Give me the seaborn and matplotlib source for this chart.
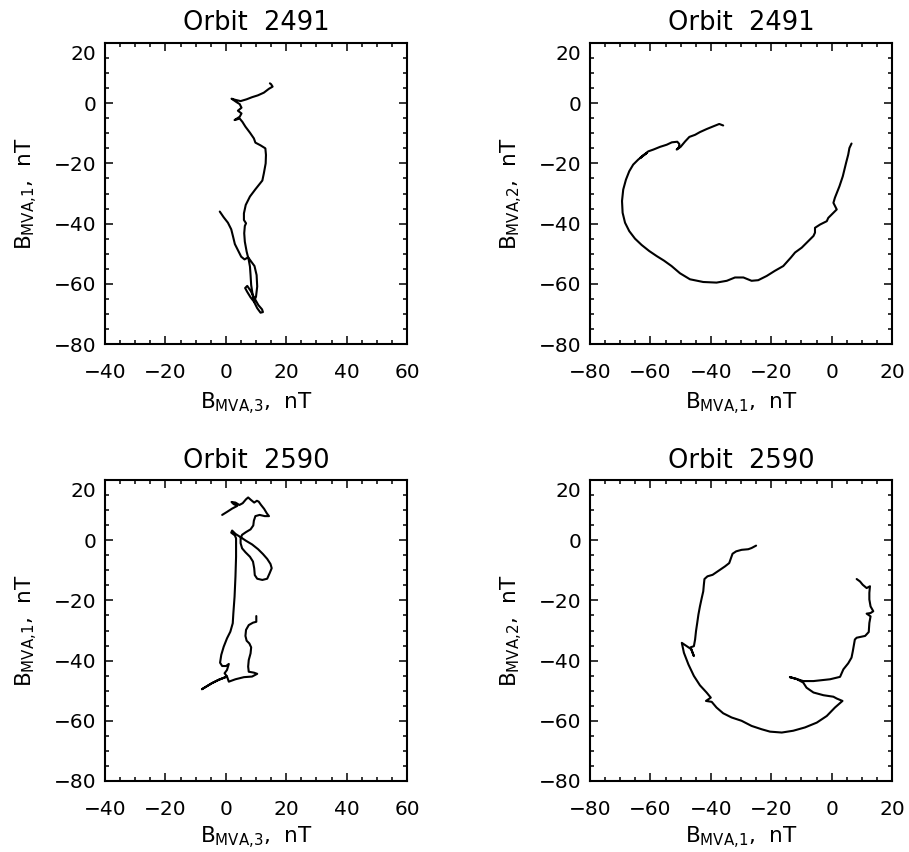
import numpy as np
import pandas as pd
import matplotlib
matplotlib.use("Agg")
import matplotlib.pyplot as plt
import matplotlib.transforms as mtransforms
from matplotlib.ticker import MultipleLocator
import seaborn as sns

# ---------------- data ----------------
# Orbit 2491 : B_MVA,3 (x) vs B_MVA,1 (y)
b3_2491 = [-2.0, -0.7, 0.7, 1.8, 2.4, 3.0, 4.0, 5.1, 6.2, 7.4,
           8.4, 9.5, 10.2, 10.4, 10.0, 9.3, 8.2, 7.1, 6.4, 7.1,
           8.2, 9.5, 10.8, 12.0, 12.3, 11.5, 10.4, 9.5, 8.9, 8.4,
           8.2, 8.0, 7.6, 6.9, 6.3, 6.1, 6.3, 6.7, 6.0, 6.0,
           6.6, 8.0, 9.8, 12.1, 12.6, 13.2, 13.3, 13.1, 11.5, 9.8,
           9.3, 8.0, 6.5, 5.5, 4.6, 2.9, 4.6, 5.2, 4.0, 5.2,
           4.6, 3.5, 1.9, 3.2, 4.9, 6.9, 8.7, 10.6, 12.6, 14.3,
           15.5, 15.0, 14.6]
b1_2491_a = [-36.0, -37.9, -39.7, -41.9, -44.3, -46.8, -48.8, -51.0, -51.9, -51.2,
             -52.6, -54.1, -57.1, -60.9, -64.3, -65.9, -64.5, -62.7, -61.4, -60.7,
             -62.3, -64.8, -67.1, -68.5, -69.4, -69.6, -68.1, -66.3, -63.7, -60.4,
             -57.1, -54.3, -52.1, -49.3, -46.0, -43.2, -40.8, -39.9, -38.8, -36.6,
             -33.8, -31.0, -28.6, -25.7, -23.3, -20.0, -17.2, -15.0, -14.0, -13.1,
             -11.7, -9.8, -7.8, -6.2, -5.1, -5.6, -4.5, -3.4, -2.5, -1.5,
             -0.3, 0.4, 1.5, 1.1, 0.7, 1.3, 2.0, 2.6, 3.5, 4.8,
             5.5, 6.3, 6.6]

# Orbit 2491 : B_MVA,1 (x) vs B_MVA,2 (y)
b1_2491_b = [-35.9, -37.2, -39.2, -41.4, -43.6, -45.2, -47.1, -48.5, -50.0, -51.3,
             -50.6, -50.4, -51.1, -52.9, -54.6, -56.8, -59.0, -60.7, -63.4, -61.2,
             -64.0, -65.7, -67.0, -68.1, -69.0, -69.4, -69.2, -68.4, -67.0, -65.1,
             -62.9, -60.4, -57.9, -55.5, -53.0, -50.2, -46.9, -42.5, -38.1, -34.7,
             -32.0, -29.2, -26.5, -24.3, -21.5, -18.8, -16.0, -13.5, -12.1, -9.9,
             -7.7, -6.0, -5.5, -5.5, -3.8, -1.6, -1.1, 0.0, 1.7, 0.6,
             1.1, 2.6, 3.7, 4.8, 5.5, 5.9, 6.6]
b2_2491 = [-7.4, -6.9, -7.7, -8.6, -9.6, -10.5, -11.2, -12.7, -14.5, -15.4,
           -14.7, -13.6, -12.8, -13.0, -13.8, -14.5, -15.4, -16.0, -18.2, -16.5,
           -18.7, -20.4, -22.6, -25.4, -28.7, -32.5, -36.4, -39.7, -42.5, -45.0,
           -47.1, -49.1, -50.8, -52.3, -54.1, -56.5, -58.5, -59.4, -59.6, -59.0,
           -57.9, -57.9, -59.0, -58.8, -57.4, -55.7, -54.1, -51.3, -49.6, -48.0,
           -45.8, -44.1, -43.0, -41.4, -40.3, -39.2, -38.1, -37.0, -35.3, -33.1,
           -31.4, -27.6, -24.3, -19.8, -17.1, -14.9, -13.4]

# Orbit 2590 : B_MVA,3 (x) vs B_MVA,1 (y)
b3_2590 = [-1.2, 0.4, 2.1, 3.8, 2.6, 1.9, 3.2, 4.5, 5.6, 6.7,
           7.4, 8.3, 9.4, 10.3, 10.9, 11.6, 12.7, 13.6, 14.3, 12.9,
           11.2, 9.8, 9.3, 9.1, 8.2, 6.7, 5.4, 4.9, 4.9, 5.4,
           6.5, 8.0, 9.0, 9.4, 9.6, 10.4, 12.1, 13.7, 14.5, 15.2,
           14.8, 13.7, 12.3, 10.7, 8.7, 6.7, 4.9, 3.2, 2.1, 1.8,
           3.0, 3.4, 3.4, 3.2, 2.9, 2.5, 2.3, 1.5, 0.4, -0.7,
           -1.5, -1.9, -1.2, 0.1, 1.0, 0.4, -0.4, 0.4, -2.4, -4.6,
           -7.9, -4.6, -2.4, 0.4, 1.0, 3.2, 6.0, 8.7, 10.4, 9.3,
           7.6, 7.4, 7.6, 8.2, 8.4, 7.8, 6.9, 6.5, 6.7, 7.6,
           9.0, 10.1, 10.1]
b1_2590_a = [8.4, 9.4, 10.5, 11.4, 12.0, 12.7, 12.5, 11.7, 12.3, 13.6,
             14.2, 13.4, 12.5, 13.1, 12.8, 11.8, 10.4, 8.9, 8.0, 8.0,
             8.4, 8.0, 6.5, 4.9, 3.6, 2.7, 1.8, 0.6, -1.0, -2.7,
             -4.0, -5.5, -7.1, -9.3, -11.6, -12.8, -13.2, -12.8, -11.0, -9.3,
             -7.9, -6.2, -4.6, -3.0, -1.4, -0.2, 1.0, 2.1, 3.2, 2.5,
             1.6, 0.6, -5.5, -12.1, -18.8, -24.3, -27.6, -30.4, -32.6, -35.4,
             -38.1, -40.7, -41.8, -41.8, -41.1, -43.1, -44.2, -45.3, -46.4, -47.5,
             -49.5, -47.5, -46.4, -45.3, -47.0, -46.2, -45.5, -45.3, -44.4, -44.0,
             -43.7, -42.0, -39.8, -37.6, -35.6, -34.3, -33.4, -31.8, -29.8, -28.2,
             -27.4, -27.1, -25.2]

# Orbit 2590 : B_MVA,1 (x) vs B_MVA,2 (y)
b1_2590_b = [-25.0, -26.5, -27.6, -29.8, -31.6, -32.8, -33.3, -33.9, -35.3, -37.2,
             -39.4, -41.1, -42.1, -42.3, -42.5, -43.0, -43.6, -44.1, -44.5, -44.9,
             -45.2, -45.6, -46.7, -45.6, -46.5, -49.6, -48.9, -47.4, -45.6, -43.6,
             -41.4, -40.0, -41.6, -39.7, -38.1, -35.9, -33.1, -29.8, -26.5, -23.2,
             -20.4, -16.5, -12.7, -8.8, -4.9, -1.6, 1.1, 3.6, 1.7, 0.6,
             -2.7, -6.0, -8.3, -9.4, -11.6, -13.8, -11.6, -9.4, -6.0, -0.5,
             2.8, 3.9, 5.5, 6.6, 7.0, 7.7, 8.3, 11.1, 12.3, 12.5,
             12.9, 11.6, 12.9, 13.8, 12.9, 12.5, 12.5, 12.7, 11.6, 10.3,
             9.4, 8.3]
b2_2590 = [-1.8, -2.6, -3.0, -3.2, -3.7, -4.5, -5.9, -7.6, -8.7, -10.0,
           -11.5, -12.0, -12.9, -14.8, -17.0, -19.2, -22.0, -24.7, -27.5, -30.2,
           -33.0, -35.2, -35.6, -38.5, -36.2, -34.1, -37.4, -41.3, -45.1, -48.2,
           -50.6, -52.3, -53.4, -53.7, -55.6, -57.5, -58.9, -60.0, -61.7, -62.8,
           -63.6, -63.9, -63.3, -62.2, -60.6, -58.4, -55.6, -53.4, -52.6, -52.0,
           -51.5, -50.6, -49.0, -47.3, -46.1, -45.5, -46.1, -46.8, -46.8, -46.2,
           -45.4, -42.9, -40.9, -39.0, -37.0, -33.0, -32.4, -31.8, -30.5, -27.5,
           -25.3, -24.4, -24.2, -23.6, -22.0, -19.7, -17.5, -15.3, -15.9, -14.8,
           -13.7, -12.9]

titles = ["Orbit  2491", "Orbit  2491", "Orbit  2590", "Orbit  2590"]
xlabels = [r"$\mathregular{B_{MVA{,}3}}$,  nT", r"$\mathregular{B_{MVA{,}1}}$,  nT",
           r"$\mathregular{B_{MVA{,}3}}$,  nT", r"$\mathregular{B_{MVA{,}1}}$,  nT"]
ylabels = [r"$\mathregular{B_{MVA{,}1}}$,  nT", r"$\mathregular{B_{MVA{,}2}}$,  nT",
           r"$\mathregular{B_{MVA{,}1}}$,  nT", r"$\mathregular{B_{MVA{,}2}}$,  nT"]
xranges = [(-40, 60), (-80, 20), (-40, 60), (-80, 20)]
yrange = (-80, 20)

series = [(b3_2491, b1_2491_a), (b1_2491_b, b2_2491),
          (b3_2590, b1_2590_a), (b1_2590_b, b2_2590)]

# ---------------- styling ----------------
sns.set_style("ticks")
plt.rcParams["font.family"] = ["DejaVu Sans"]
plt.rcParams["mathtext.fontset"] = "dejavusans"
for k in ["text.color", "axes.labelcolor", "xtick.color", "ytick.color",
          "axes.edgecolor"]:
    plt.rcParams[k] = "black"

W, H = 909, 852
fig = plt.figure(figsize=(W / 100, H / 100), dpi=100)

# axes boxes in pixels: (left, top, width, height)
boxes = [(105, 43, 302, 301), (590, 43, 302, 301),
         (105, 480, 302, 301), (590, 480, 302, 301)]
xlabelpads = [6, 6, 3.5, 3.5]

for i, (bx, (xs, ys)) in enumerate(zip(boxes, series)):
    l, t, w, h = bx
    ax = fig.add_axes([l / W, 1 - (t + h) / H, w / W, h / H])
    df = pd.DataFrame({"x": xs, "y": ys})
    sns.lineplot(data=df, x="x", y="y", sort=False, estimator=None,
                 color="black", linewidth=1.5, ax=ax)
    ax.set_xlim(*xranges[i])
    ax.set_ylim(*yrange)
    ax.set_xticks(np.arange(xranges[i][0], xranges[i][1] + 1, 20))
    ax.set_yticks(np.arange(yrange[0], yrange[1] + 1, 20))
    ax.xaxis.set_minor_locator(MultipleLocator(5))
    ax.yaxis.set_minor_locator(MultipleLocator(5))
    ax.tick_params(which="both", direction="in", top=True, right=True,
                   colors="black", width=1.1)
    ax.tick_params(which="major", length=5.5, labelsize=14.5)
    ax.tick_params(axis="x", which="major", pad=14)
    ax.tick_params(axis="y", which="major", pad=6)
    ax.tick_params(which="minor", length=2.8)
    for sp in ax.spines.values():
        sp.set_linewidth(1.5)
        sp.set_color("black")
    ax.set_title(titles[i], fontsize=18.5, pad=9, color="black")
    ax.set_xlabel(xlabels[i], fontsize=15.5, labelpad=xlabelpads[i])
    ax.set_ylabel(ylabels[i], fontsize=15.5, labelpad=10)
    # top y tick label sits a bit lower, as in the reference
    lab = ax.yaxis.get_major_ticks()[-1].label1
    lab.set_transform(lab.get_transform() +
                      mtransforms.ScaledTranslation(0, -0.1, fig.dpi_scale_trans))

fig.savefig("out.png", dpi=100, facecolor="white")
